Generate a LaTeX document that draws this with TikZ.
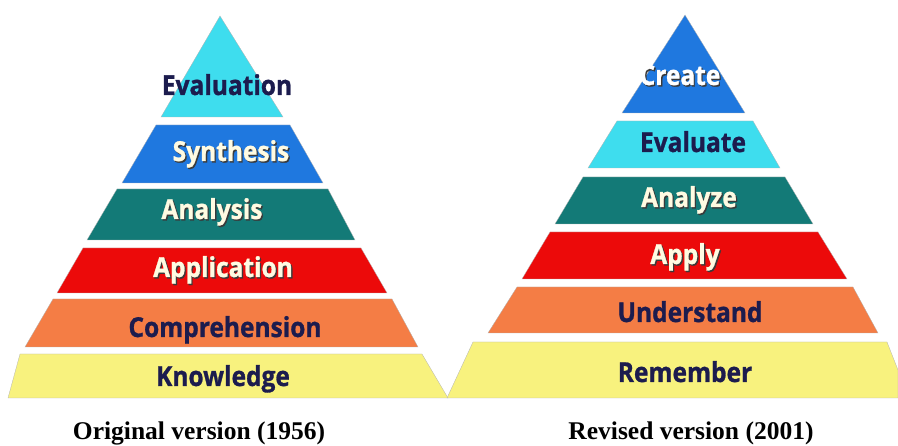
\documentclass[tikz,border=0pt]{standalone}
\usepackage{fontspec}
\setmainfont{Liberation Serif}
\setsansfont{Open Sans}
\newfontfamily\levelfont[BoldFeatures={FakeBold=1.1}]{Open Sans}
\usepackage{graphicx}
\usepackage{tikz}
\usetikzlibrary{positioning}

\definecolor{cyanband}{HTML}{3EDDEE}
\definecolor{blueband}{HTML}{1F78DF}
\definecolor{tealband}{HTML}{137A77}
\definecolor{redband}{HTML}{EC0A0A}
\definecolor{orangeband}{HTML}{F47D45}
\definecolor{yellowband}{HTML}{F8F27E}
\definecolor{navytext}{HTML}{1C1C4E}
\definecolor{creamtext}{HTML}{FFFBE2}
\definecolor{shadowgray}{HTML}{3A3A3A}

\newcommand{\tallword}[1]{\scalebox{1}[1.12]{#1}}
\newcommand{\embossed}[1]{\tallword{\rlap{\textcolor{shadowgray}{\kern1.3pt\raisebox{-1.3pt}{#1}}}#1}}

\begin{document}
\begin{tikzpicture}[
x=1pt,y=-1pt,
band/.style={draw=black!30,line width=0.3pt},
level/.style={font=\levelfont\bfseries\fontsize{24.5}{24.5}\selectfont,anchor=base,inner sep=0pt},
dark/.style={level,text=navytext},
light/.style={level,text=creamtext},
caption/.style={font=\rmfamily\bfseries\fontsize{25.5}{25.5}\selectfont,anchor=base,inner sep=0pt}]
    \useasboundingbox (0,0) rectangle (898,446);

    % Draw original pyramid
    \fill[band,fill=cyanband] (220,16) -- (283,117) -- (161,117) -- cycle;
    \fill[band,fill=blueband] (156,125) -- (290,125) -- (323,183) -- (122,183) -- cycle;
    \fill[band,fill=tealband] (117,189) -- (328,189) -- (355,240) -- (87,240) -- cycle;
    \fill[band,fill=redband] (83,248) -- (361,248) -- (387,293) -- (57,293) -- cycle;
    \fill[band,fill=orangeband] (53,299) -- (392,299) -- (418,347) -- (25,347) -- cycle;
    \fill[band,fill=yellowband] (20,354) -- (422,354) -- (448,398) -- (8,398) -- cycle;

    % Draw revised pyramid
    \fill[band,fill=blueband] (685,15) -- (745,113) -- (622,113) -- cycle;
    \fill[band,fill=cyanband] (617,121) -- (753,121) -- (780,168) -- (588,168) -- cycle;
    \fill[band,fill=tealband] (583,177) -- (785,177) -- (813,224) -- (555,224) -- cycle;
    \fill[band,fill=redband] (550,232) -- (818,232) -- (847,279) -- (522,279) -- cycle;
    \fill[band,fill=orangeband] (517,287) -- (853,287) -- (878,333) -- (488,333) -- cycle;
    \fill[band,fill=yellowband] (473,342) -- (887,342) -- (898,370) -- (898,398) -- (447,398) -- cycle;

    % Levels
    \node[dark] (evaluation) at (227,95) {\tallword{Evaluation}};
    \node[light] (synthesis) at (231,161) {\embossed{Synthesis}};
    \node[light] (analysis) at (212,219) {\embossed{Analysis}};
    \node[light] (application) at (223,277) {\embossed{Application}};
    \node[dark] (comprehension) at (225,337) {\tallword{Comprehension}};
    \node[dark] (knowledge) at (223,386) {\tallword{Knowledge}};

    \node[light,text=white] (create) at (680,85) {\embossed{Create}};
    \node[dark] (evaluate) at (693,152) {\tallword{Evaluate}};
    \node[light] (analyze) at (689,207) {\embossed{Analyze}};
    \node[light] (apply) at (685,264) {\embossed{Apply}};
    \node[dark] (understand) at (690,322) {\tallword{Understand}};
    \node[dark] (remember) at (685,382) {\tallword{Remember}};

    % Captions
    \node[caption] (original) at (199,440) {Original version (1956)};
    \node[caption] (revised) at (691,440) {Revised version (2001)};

\end{tikzpicture}
\end{document}
